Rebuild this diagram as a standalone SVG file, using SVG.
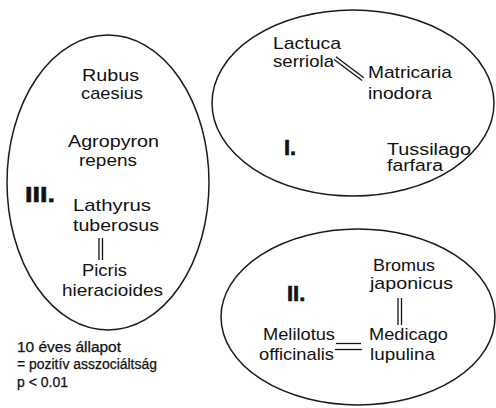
<svg xmlns="http://www.w3.org/2000/svg" width="496" height="408" viewBox="0 0 496 408">
<style>
  .ell { fill: none; stroke: #1a1a1a; stroke-width: 1.5; }
  .lbl { font-family: "Liberation Sans", Arial, sans-serif; font-size: 17px; fill: #111; }
  .sm { font-size: 16px; }
  .num { font-family: "Liberation Sans", Arial, sans-serif; font-size: 22px; font-weight: bold; fill: #111; stroke: #111; stroke-width: 0.6; }
  .leg { font-family: "Liberation Sans", Arial, sans-serif; font-size: 14px; fill: #111; stroke: #111; stroke-width: 0.25; }
  .con { stroke: #111; stroke-width: 1.3; fill: none; }
</style>
<rect width="496" height="408" fill="#fff"/>
<g id="groupIII">
  <ellipse class="ell" cx="108" cy="182.5" rx="101" ry="147.5"/>
  <text class="num" x="25" y="202" textLength="30" lengthAdjust="spacingAndGlyphs">III.</text>
</g>
<g id="groupI">
  <ellipse class="ell" cx="353" cy="103" rx="141" ry="93"/>
  <text class="num" x="284" y="155">I.</text>
</g>
<g id="groupII">
  <ellipse class="ell" cx="358" cy="317" rx="137" ry="88"/>
  <text class="num" x="287" y="301">II.</text>
</g>
<g id="rubus"><text class="lbl" x="82" y="81" textLength="57" lengthAdjust="spacingAndGlyphs">Rubus</text><text class="lbl" x="81" y="99" textLength="62" lengthAdjust="spacingAndGlyphs">caesius</text></g>
<g id="agropyron"><text class="lbl" x="68" y="147" textLength="91" lengthAdjust="spacingAndGlyphs">Agropyron</text><text class="lbl" x="79" y="166" textLength="58" lengthAdjust="spacingAndGlyphs">repens</text></g>
<g id="lathyrus"><text class="lbl" x="73" y="211" textLength="78" lengthAdjust="spacingAndGlyphs">Lathyrus</text><text class="lbl" x="73" y="231" textLength="86" lengthAdjust="spacingAndGlyphs">tuberosus</text></g>
<g id="picris"><text class="lbl" x="82" y="276" textLength="45" lengthAdjust="spacingAndGlyphs">Picris</text><text class="lbl" x="62" y="296" textLength="101" lengthAdjust="spacingAndGlyphs">hieracioides</text></g>
<g id="lactuca"><text class="lbl" x="273" y="49" textLength="68" lengthAdjust="spacingAndGlyphs">Lactuca</text><text class="lbl" x="273" y="67" textLength="61" lengthAdjust="spacingAndGlyphs">serriola</text></g>
<g id="matricaria"><text class="lbl" x="368" y="78" textLength="84" lengthAdjust="spacingAndGlyphs">Matricaria</text><text class="lbl" x="368" y="99" textLength="64" lengthAdjust="spacingAndGlyphs">inodora</text></g>
<g id="tussilago"><text class="lbl sm" x="387" y="155" textLength="84" lengthAdjust="spacingAndGlyphs">Tussilago</text><text class="lbl sm" x="387" y="171" textLength="56" lengthAdjust="spacingAndGlyphs">farfara</text></g>
<g id="bromus"><text class="lbl" x="373" y="271" textLength="62" lengthAdjust="spacingAndGlyphs">Bromus</text><text class="lbl" x="370" y="289" textLength="83" lengthAdjust="spacingAndGlyphs">japonicus</text></g>
<g id="melilotus"><text class="lbl" x="263" y="340" textLength="72" lengthAdjust="spacingAndGlyphs">Melilotus</text><text class="lbl" x="259" y="360" textLength="75" lengthAdjust="spacingAndGlyphs">officinalis</text></g>
<g id="medicago"><text class="lbl" x="369" y="340" textLength="79" lengthAdjust="spacingAndGlyphs">Medicago</text><text class="lbl" x="370" y="360" textLength="65" lengthAdjust="spacingAndGlyphs">lupulina</text></g>
<g id="connectors">
  <line class="con" x1="99" y1="238" x2="99" y2="260"/>
  <line class="con" x1="102.5" y1="238" x2="102.5" y2="260"/>
  <line class="con" x1="335.9" y1="56.8" x2="363.9" y2="77.8"/>
  <line class="con" x1="334.1" y1="59.6" x2="362.1" y2="80.6"/>
  <line class="con" x1="398" y1="298" x2="398" y2="325"/>
  <line class="con" x1="401.5" y1="298" x2="401.5" y2="325"/>
  <line class="con" x1="336" y1="343.5" x2="361" y2="343.5"/>
  <line class="con" x1="335" y1="349.5" x2="362" y2="349.5"/>
</g>
<g id="legend">
  <text class="leg" x="17" y="352" textLength="104" lengthAdjust="spacingAndGlyphs">10 éves állapot</text>
  <text class="leg" x="17" y="369" textLength="140" lengthAdjust="spacingAndGlyphs">= pozitív asszociáltság</text>
  <text class="leg" x="17" y="387" textLength="51" lengthAdjust="spacingAndGlyphs">p &lt; 0.01</text>
</g>
</svg>
